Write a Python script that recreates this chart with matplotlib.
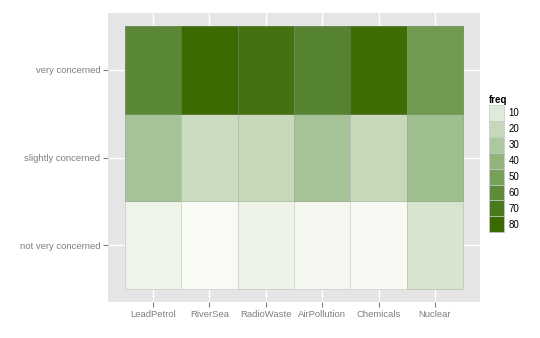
import matplotlib
matplotlib.use("Agg")
import matplotlib.pyplot as plt
import numpy as np
from matplotlib.colors import LinearSegmentedColormap, Normalize
from matplotlib.patches import Patch

items = ['LeadPetrol', 'RiverSea', 'RadioWaste', 'AirPollution', 'Chemicals', 'Nuclear']
levels = ['not very concerned', 'slightly concerned', 'very concerned']
# percentage of respondents per level, one list per level (bottom to top)
not_very = [5.8, 2.4, 6.2, 3.8, 3.0, 13.1]
slightly = [32.6, 17.5, 19.2, 32.6, 19.2, 34.7]
very = [61.5, 80.1, 74.6, 63.6, 77.8, 52.2]
legend_breaks = [10, 20, 30, 40, 50, 60, 70, 80]

plt.rcParams['font.family'] = ['Liberation Sans', 'DejaVu Sans']

freq = np.array([not_very, slightly, very])
cmap = LinearSegmentedColormap.from_list('greens', [
    (0.0, '#f8fbf4'), (0.19, '#cbdcc0'), (0.39, '#a5c396'),
    (0.64, '#719b50'), (0.79, '#55832f'), (1.0, '#3b6a00')])
norm = Normalize(freq.min(), freq.max())

fig = plt.figure(figsize=(5.4, 3.38), dpi=100)
ax = fig.add_axes([0.2, 0.1065, 0.689, 0.855])
ax.set_facecolor('#e5e5e5')

xe = np.arange(len(items) + 1) + 0.5
ye = np.arange(len(levels) + 1) + 0.5
ax.pcolormesh(xe, ye, freq, cmap=cmap, norm=norm,
              edgecolors=(0.6, 0.6, 0.6, 0.35), linewidth=0.6, zorder=2)

ax.set_xticks(np.arange(1, len(items) + 1))
ax.set_xticklabels(items)
ax.set_yticks(np.arange(1, len(levels) + 1))
ax.set_yticklabels(levels)
ax.set_xlim(0.2, len(items) + 0.8)
ax.set_ylim(0.35, len(levels) + 0.65)
ax.grid(True, color='white', linewidth=1.0, zorder=1)
ax.set_axisbelow(True)
for s in ax.spines.values():
    s.set_visible(False)
ax.tick_params(colors='#7f7f7f', labelcolor='#7f7f7f', labelsize=6.8,
               length=3.5, width=0.8, pad=2)

handles = [Patch(facecolor=cmap(norm(v)), edgecolor='#c8c8c8', linewidth=0.5)
           for v in legend_breaks]
leg = fig.legend(handles, [str(v) for v in legend_breaks], title='freq',
                 loc='upper left', bbox_to_anchor=(0.893, 0.74),
                 frameon=False, fontsize=7, handlelength=1.5, handleheight=2.15,
                 labelspacing=0.0, handletextpad=0.5, borderpad=0.2,
                 alignment='left')
leg.get_title().set_fontsize(7)
leg.get_title().set_fontweight('bold')

fig.savefig('out.png', dpi=100)
